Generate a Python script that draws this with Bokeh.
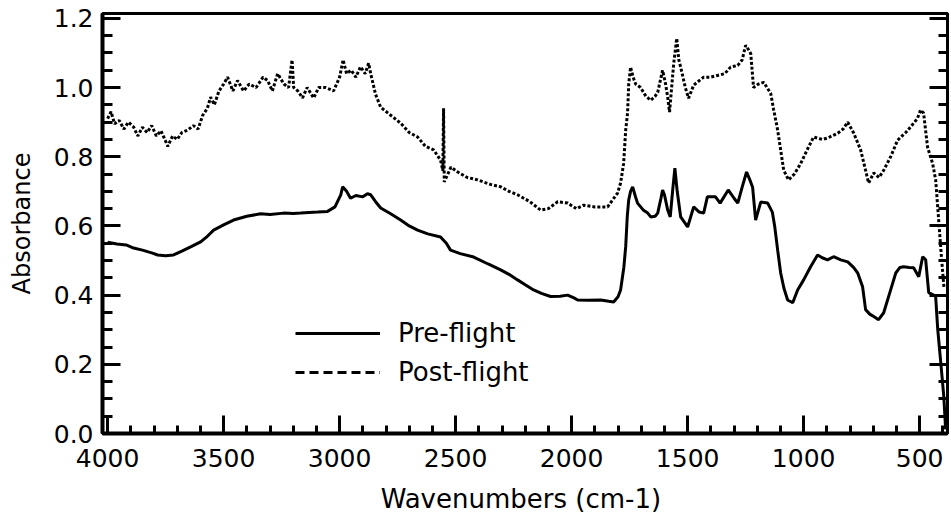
from bokeh.plotting import figure
from bokeh.models import (Range1d, LinearAxis, SingleIntervalTicker, PrintfTickFormatter,
                          CustomJSTickFormatter, Legend, LegendItem, ColumnDataSource)
from bokeh.embed import file_html
from bokeh.resources import INLINE

# ---------------- data ----------------
pre_wn = [4000, 3960, 3920, 3888, 3850, 3810, 3784, 3750, 3716, 3680, 3640, 3599, 3570, 3543,
          3500, 3457, 3400, 3341, 3300, 3241, 3200, 3168, 3095, 3052, 3020, 2995, 2987, 2970,
          2953, 2930, 2900, 2880, 2866, 2845, 2823, 2780, 2737, 2700, 2664, 2620, 2565, 2540,
          2522, 2480, 2422, 2360, 2306, 2270, 2233, 2200, 2164, 2130, 2091, 2050, 2017, 1990,
          1974, 1930, 1875, 1840, 1819, 1800, 1789, 1775, 1767, 1760, 1754, 1746, 1737, 1725,
          1716, 1690, 1672, 1659, 1640, 1629, 1615, 1608, 1600, 1586, 1575, 1565, 1555, 1545,
          1530, 1500, 1474, 1450, 1431, 1415, 1380, 1360, 1325, 1300, 1284, 1265, 1246, 1230,
          1220, 1207, 1185, 1155, 1135, 1125, 1112, 1099, 1085, 1069, 1047, 1026, 1000, 970,
          940, 920, 897, 871, 840, 810, 785, 767, 746, 733, 715, 698, 677, 655, 625, 603, 585,
          569, 545, 526, 504, 487, 474, 461, 440, 431, 422, 409, 396, 388]
pre_abs = [0.553, 0.548, 0.545, 0.536, 0.530, 0.522, 0.516, 0.514, 0.516, 0.527, 0.540, 0.554,
           0.570, 0.588, 0.603, 0.617, 0.628, 0.635, 0.633, 0.637, 0.636, 0.637, 0.640, 0.642,
           0.655, 0.690, 0.713, 0.700, 0.680, 0.688, 0.684, 0.693, 0.690, 0.670, 0.652, 0.635,
           0.617, 0.600, 0.588, 0.577, 0.568, 0.550, 0.530, 0.520, 0.510, 0.490, 0.473, 0.460,
           0.444, 0.430, 0.415, 0.405, 0.396, 0.397, 0.400, 0.392, 0.386, 0.385, 0.386, 0.382,
           0.380, 0.395, 0.415, 0.480, 0.540, 0.630, 0.675, 0.700, 0.713, 0.685, 0.666, 0.645,
           0.637, 0.626, 0.628, 0.637, 0.680, 0.704, 0.690, 0.646, 0.626, 0.700, 0.767, 0.700,
           0.626, 0.597, 0.655, 0.640, 0.637, 0.684, 0.684, 0.666, 0.704, 0.680, 0.666, 0.712,
           0.756, 0.730, 0.712, 0.617, 0.669, 0.666, 0.640, 0.600, 0.530, 0.464, 0.420, 0.386,
           0.378, 0.415, 0.444, 0.482, 0.516, 0.508, 0.502, 0.511, 0.502, 0.496, 0.480, 0.464,
           0.424, 0.358, 0.345, 0.338, 0.329, 0.349, 0.415, 0.464, 0.480, 0.482, 0.480, 0.479,
           0.453, 0.511, 0.502, 0.407, 0.400, 0.395, 0.300, 0.205, 0.107, 0.012]

post_wn = [4000, 3985, 3970, 3950, 3930, 3910, 3888, 3870, 3850, 3830, 3810, 3790, 3770, 3750,
           3741, 3720, 3700, 3680, 3655, 3630, 3610, 3590, 3570, 3556, 3540, 3520, 3500, 3483,
           3460, 3440, 3414, 3390, 3360, 3330, 3310, 3290, 3267, 3240, 3220, 3205, 3198, 3180,
           3160, 3140, 3112, 3090, 3060, 3026, 3000, 2985, 2970, 2950, 2930, 2910, 2890, 2875,
           2866, 2845, 2823, 2780, 2737, 2700, 2664, 2630, 2595, 2565, 2555, 2552, 2549, 2520,
           2491, 2450, 2405, 2350, 2306, 2270, 2233, 2180, 2134, 2100, 2060, 2017, 1980, 1948,
           1900, 1845, 1802, 1789, 1776, 1767, 1759, 1754, 1746, 1735, 1724, 1703, 1680, 1659,
           1640, 1629, 1608, 1595, 1586, 1578, 1560, 1547, 1538, 1530, 1510, 1496, 1474, 1450,
           1431, 1400, 1371, 1340, 1315, 1284, 1265, 1250, 1238, 1228, 1216, 1195, 1172, 1142,
           1129, 1112, 1086, 1065, 1040, 1013, 985, 957, 920, 897, 853, 830, 810, 784, 754, 720,
           698, 675, 655, 625, 595, 560, 539, 510, 496, 483, 466, 444, 431, 418, 405, 395]
post_abs = [0.910, 0.930, 0.895, 0.905, 0.880, 0.900, 0.886, 0.860, 0.885, 0.870, 0.890, 0.860,
            0.875, 0.845, 0.830, 0.860, 0.850, 0.870, 0.877, 0.890, 0.880, 0.920, 0.940, 0.972,
            0.950, 0.990, 1.010, 1.030, 0.990, 1.020, 0.990, 1.010, 1.000, 1.030, 1.020, 0.990,
            1.040, 1.010, 1.000, 1.080, 1.000, 0.990, 0.970, 1.000, 0.970, 1.000, 1.000, 0.990,
            1.030, 1.080, 1.040, 1.050, 1.030, 1.060, 1.040, 1.070, 1.040, 0.980, 0.943, 0.920,
            0.897, 0.870, 0.857, 0.830, 0.820, 0.790, 0.760, 0.940, 0.727, 0.770, 0.756, 0.740,
            0.733, 0.720, 0.713, 0.700, 0.690, 0.670, 0.646, 0.650, 0.670, 0.666, 0.650, 0.660,
            0.655, 0.655, 0.695, 0.724, 0.780, 0.877, 0.926, 1.010, 1.059, 1.030, 1.010, 1.000,
            0.975, 0.963, 0.975, 0.986, 1.050, 1.010, 0.972, 0.929, 1.070, 1.142, 1.080, 1.059,
            1.000, 0.969, 1.007, 1.020, 1.030, 1.030, 1.035, 1.040, 1.059, 1.064, 1.080, 1.122,
            1.110, 1.098, 1.000, 1.010, 1.015, 0.983, 0.935, 0.877, 0.761, 0.733, 0.750, 0.780,
            0.820, 0.857, 0.850, 0.854, 0.868, 0.880, 0.900, 0.868, 0.819, 0.724, 0.753, 0.740,
            0.761, 0.800, 0.848, 0.870, 0.886, 0.910, 0.935, 0.926, 0.828, 0.780, 0.733, 0.617,
            0.500, 0.420]

series_labels = ["Pre-flight", "Post-flight"]
x_title = "Wavenumbers  (cm-1)"
y_title = "Absorbance"

FONT = "DejaVu Sans"

p = figure(width=951, height=516, output_backend="svg", toolbar_location=None,
           x_range=Range1d(4022, 380), y_range=Range1d(0, 1.214),
           x_axis_label=x_title, y_axis_label=y_title,
           min_border_left=102, min_border_right=4, min_border_top=13, min_border_bottom=82)
p.grid.visible = False
p.background_fill_color = "white"
p.border_fill_color = "white"
p.outline_line_color = "black"
p.outline_line_width = 3
p.outline_line_alpha = 1

xt = SingleIntervalTicker(interval=500, num_minor_ticks=5)
yt = SingleIntervalTicker(interval=0.2, num_minor_ticks=4)

xa = p.xaxis[0]
xa.ticker = xt
xa.formatter = PrintfTickFormatter(format="%d")
ya = p.yaxis[0]
ya.ticker = yt
ya.formatter = PrintfTickFormatter(format="%.1f")

for ax in (xa, ya):
    ax.axis_line_width = 4
    ax.axis_line_color = "black"
    ax.major_tick_in = 18
    ax.major_tick_out = 0
    ax.minor_tick_out = 0
    ax.major_tick_line_width = 3
    ax.minor_tick_line_width = 3
    ax.major_tick_line_color = "black"
    ax.minor_tick_line_color = "black"
    ax.major_label_text_font = FONT
    ax.major_label_text_font_size = "25px"
    ax.major_label_text_color = "black"
    ax.axis_label_text_font = FONT
    ax.axis_label_text_font_style = "normal"
    ax.axis_label_text_color = "black"

xa.minor_tick_in = 8
xa.major_label_standoff = 15
xa.axis_label_text_font_size = "26px"
xa.axis_label_standoff = 14
ya.minor_tick_in = 10
ya.major_label_standoff = 9
ya.axis_label_text_font_size = "24px"
ya.axis_label_standoff = 15

ra = LinearAxis(ticker=yt, formatter=CustomJSTickFormatter(code="return ''"),
                axis_line_width=3, axis_line_color="black",
                major_tick_in=18, major_tick_out=0, minor_tick_in=9, minor_tick_out=0,
                major_tick_line_width=3, minor_tick_line_width=3,
                major_label_standoff=0, major_label_text_font_size="1px")
p.add_layout(ra, "right")

pre_src = ColumnDataSource(dict(x=pre_wn, y=pre_abs))
post_src = ColumnDataSource(dict(x=post_wn, y=post_abs))

r_pre = p.line("x", "y", source=pre_src, line_color="black", line_width=3)
r_post = p.line("x", "y", source=post_src, line_color="black", line_width=3, line_dash="3 2")

# legend sample for the dashed style (no visible data)
nan = float("nan")
r_leg_post = p.line(x=[nan], y=[nan], line_color="black", line_width=3, line_dash="9 5")

legend = Legend(items=[LegendItem(label=series_labels[0], renderers=[r_pre]),
                       LegendItem(label=series_labels[1], renderers=[r_leg_post])],
                location=(193, 46), orientation="vertical",
                glyph_width=85, glyph_height=30, label_height=30, label_standoff=18,
                spacing=9, padding=0, margin=0,
                border_line_alpha=0, background_fill_alpha=0,
                label_text_font=FONT, label_text_font_size="26px", label_text_color="black")
p.add_layout(legend, "center")

open("out.html", "w").write(file_html(p, INLINE))
